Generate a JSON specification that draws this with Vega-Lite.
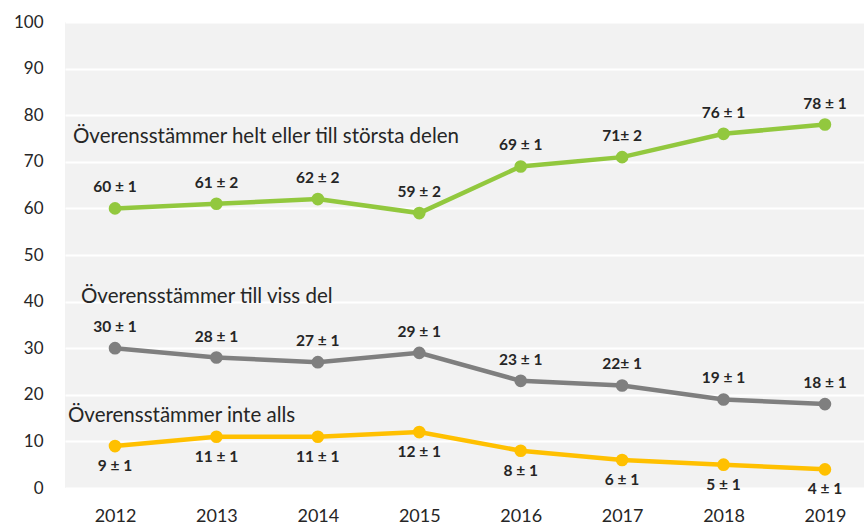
{
  "$schema": "https://vega.github.io/schema/vega-lite/v6.json",
  "autosize": "none",
  "width": 799,
  "height": 466,
  "padding": {"left": 65, "top": 22, "right": 0, "bottom": 41},
  "background": "white",
  "config": {
    "view": {"fill": "#f2f2f2", "stroke": null},
    "font": "Lato"
  },
  "data": {
    "values": [
      {"year": 2012, "series": "helt", "value": 60, "label": "60 ± 1"},
      {"year": 2013, "series": "helt", "value": 61, "label": "61 ± 2"},
      {"year": 2014, "series": "helt", "value": 62, "label": "62 ± 2"},
      {"year": 2015, "series": "helt", "value": 59, "label": "59 ± 2"},
      {"year": 2016, "series": "helt", "value": 69, "label": "69 ± 1"},
      {"year": 2017, "series": "helt", "value": 71, "label": "71± 2"},
      {"year": 2018, "series": "helt", "value": 76, "label": "76 ± 1"},
      {"year": 2019, "series": "helt", "value": 78, "label": "78 ± 1"},
      {"year": 2012, "series": "viss", "value": 30, "label": "30 ± 1"},
      {"year": 2013, "series": "viss", "value": 28, "label": "28 ± 1"},
      {"year": 2014, "series": "viss", "value": 27, "label": "27 ± 1"},
      {"year": 2015, "series": "viss", "value": 29, "label": "29 ± 1"},
      {"year": 2016, "series": "viss", "value": 23, "label": "23 ± 1"},
      {"year": 2017, "series": "viss", "value": 22, "label": "22± 1"},
      {"year": 2018, "series": "viss", "value": 19, "label": "19 ± 1"},
      {"year": 2019, "series": "viss", "value": 18, "label": "18 ± 1"},
      {"year": 2012, "series": "inte", "value": 9, "label": "9 ± 1"},
      {"year": 2013, "series": "inte", "value": 11, "label": "11 ± 1"},
      {"year": 2014, "series": "inte", "value": 11, "label": "11 ± 1"},
      {"year": 2015, "series": "inte", "value": 12, "label": "12 ± 1"},
      {"year": 2016, "series": "inte", "value": 8, "label": "8 ± 1"},
      {"year": 2017, "series": "inte", "value": 6, "label": "6 ± 1"},
      {"year": 2018, "series": "inte", "value": 5, "label": "5 ± 1"},
      {"year": 2019, "series": "inte", "value": 4, "label": "4 ± 1"}
    ]
  },
  "encoding": {
    "x": {
      "field": "year", "type": "quantitative",
      "scale": {"domain": [2011.507, 2019.385], "nice": false, "zero": false},
      "axis": {
        "title": null, "values": [2012, 2013, 2014, 2015, 2016, 2017, 2018, 2019],
        "format": "d", "grid": false, "domain": false, "ticks": false,
        "labelPadding": 19, "labelFontSize": 18, "labelColor": "#262626",
        "labelFont": "Lato"
      }
    },
    "y": {
      "field": "value", "type": "quantitative",
      "scale": {"domain": [0, 100], "nice": false},
      "axis": {
        "title": null, "values": [0, 10, 20, 30, 40, 50, 60, 70, 80, 90, 100],
        "grid": true, "gridColor": "white", "gridWidth": 2, "gridOpacity": 1,
        "domain": false, "ticks": false, "labelPadding": 22,
        "labelFontSize": 17, "labelColor": "#262626", "labelFont": "Lato"
      }
    },
    "color": {
      "field": "series", "type": "nominal",
      "scale": {"domain": ["helt", "viss", "inte"], "range": ["#92c83e", "#7f7f7f", "#ffc000"]},
      "legend": null
    }
  },
  "layer": [
    {"mark": {"type": "line", "strokeWidth": 4.5}},
    {"mark": {"type": "point", "filled": true, "size": 160, "opacity": 1}},
    {
      "transform": [{"filter": "datum.series !== 'inte'"}],
      "mark": {"type": "text", "dy": -21, "fontSize": 15.5, "fontWeight": "bold", "font": "Lato"},
      "encoding": {"text": {"field": "label"}, "color": {"value": "#262626"}}
    },
    {
      "transform": [{"filter": "datum.series === 'inte'"}],
      "mark": {"type": "text", "dy": 20, "fontSize": 15.5, "fontWeight": "bold", "font": "Lato"},
      "encoding": {"text": {"field": "label"}, "color": {"value": "#262626"}}
    },
    {
      "transform": [{"filter": "datum.series === 'helt' && datum.year === 2012"}],
      "mark": {"type": "text", "align": "left", "baseline": "middle", "dx": -42, "dy": -71, "fontSize": 20.5, "font": "Lato"},
      "encoding": {"text": {"value": "Överensstämmer helt eller till största delen"}, "color": {"value": "#262626"}}
    },
    {
      "transform": [{"filter": "datum.series === 'viss' && datum.year === 2012"}],
      "mark": {"type": "text", "align": "left", "baseline": "middle", "dx": -34, "dy": -51, "fontSize": 20.5, "font": "Lato"},
      "encoding": {"text": {"value": "Överensstämmer till viss del"}, "color": {"value": "#262626"}}
    },
    {
      "transform": [{"filter": "datum.series === 'inte' && datum.year === 2012"}],
      "mark": {"type": "text", "align": "left", "baseline": "middle", "dx": -47, "dy": -30, "fontSize": 20.5, "font": "Lato"},
      "encoding": {"text": {"value": "Överensstämmer inte alls"}, "color": {"value": "#262626"}}
    }
  ]
}
